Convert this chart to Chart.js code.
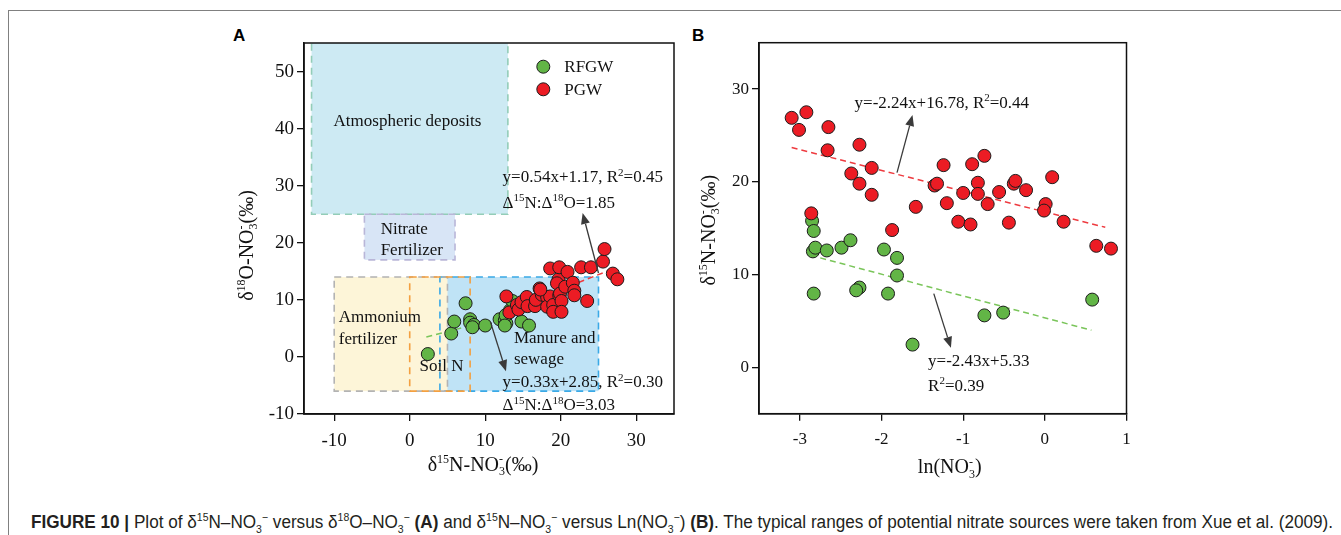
<!DOCTYPE html>
<html>
<head>
<meta charset="utf-8">
<script src="https://cdn.jsdelivr.net/npm/chart.js@4.4.1/dist/chart.umd.min.js"></script>
<style>
  body { margin: 0; background: #fff; width: 1341px; height: 535px; position: relative; overflow: hidden; }
  #frame { position: absolute; left: 8px; top: 10px; right: 0; bottom: 0; border-top: 1px solid #808080; border-left: 1px solid #808080; }
  .panel { position: absolute; font: bold 17px "Liberation Sans", Arial, sans-serif; line-height: 17px; color: #000; }
  canvas { position: absolute; }
  #caption { position: absolute; left: 31px; top: 512px; font: 18px "Liberation Sans", Arial, sans-serif; color: #231f20;
             white-space: nowrap; transform-origin: 0 0; line-height: 20px; }
  #caption sup, #caption sub { font-size: 11px; line-height: 0; }
</style>
</head>
<body>
<div id="frame"></div>
<div class="panel" style="left:233px;top:27px">A</div>
<div class="panel" style="left:692px;top:27px">B</div>
<canvas id="chartA" width="490" height="470" style="left:200px;top:20px;width:490px;height:470px"></canvas>
<canvas id="chartB" width="460" height="470" style="left:690px;top:20px;width:460px;height:470px"></canvas>
<div id="caption"><b>FIGURE 10 |</b> Plot of δ<sup>15</sup>N–NO<sub>3</sub><sup>−</sup> versus δ<sup>18</sup>O–NO<sub>3</sub><sup>−</sup> <b>(A)</b> and δ<sup>15</sup>N–NO<sub>3</sub><sup>−</sup> versus Ln(NO<sub>3</sub><sup>−</sup>) <b>(B)</b>. The typical ranges of potential nitrate sources were taken from Xue et al. (2009).</div>
<script>
// ---- panel A: d15N (x) vs d18O (y) ----
const rfgwA_x = [2.4, 5.5, 5.9, 7.4, 8.0, 8.0, 8.5, 8.3, 10.0, 11.9, 12.6, 12.8, 12.7, 12.6, 13.3, 13.6, 14.8, 15.8];
const rfgwA_y = [0.5, 4.1, 6.2, 9.4, 6.6, 6.0, 5.6, 5.2, 5.5, 6.6, 6.4, 5.9, 7.3, 5.5, 8.2, 9.8, 6.2, 5.5];
const pgwA_x = [12.8, 13.2, 14.2, 14.4, 14.8, 15.5, 15.6, 16.6, 16.7, 17.2, 17.5, 18.2, 18.2, 18.6, 18.6, 19.0, 19.0,
                19.7, 19.5, 19.8, 19.8, 19.9, 20.1, 20.1, 20.6, 20.9, 21.6, 21.8, 21.8, 22.7, 23.5, 24.0, 25.6, 25.8,
                26.9, 27.5, 17.3];
const pgwA_y = [10.6, 7.8, 9.1, 8.3, 9.6, 10.5, 8.9, 8.9, 10.0, 12.0, 10.9, 10.5, 8.8, 10.6, 15.5, 9.1, 7.9,
                13.6, 12.9, 15.7, 10.8, 11.1, 9.8, 7.9, 12.3, 14.9, 13.0, 11.6, 10.8, 15.7, 9.8, 15.7, 16.7, 18.9,
                14.6, 13.6, 11.8];
const fitA_red_x = [12.5, 26.3], fitA_red_y = [7.9, 15.1];
const fitA_green_x = [2.2, 16.2], fitA_green_y = [3.5, 8.3];
const ticksA_x = [-10, 0, 10, 20, 30];
const ticksA_y = [-10, 0, 10, 20, 30, 40, 50];

// nitrate source ranges (Xue et al. 2009)
const srcNames = ['Atmospheric deposits', 'Nitrate fertilizer', 'Manure and sewage', 'Ammonium fertilizer', 'Soil N'];
const srcN_min = [-13, -6, 4, -10, 0];
const srcN_max = [13, 6, 25, 5, 8];
const srcO_min = [25, 17, -6, -6, -6];
const srcO_max = [60, 25, 14, 14, 14];

// ---- panel B: ln(NO3) (x) vs d15N (y) ----
const pgwB_x = [-3.10, -2.92, -3.01, -2.65, -2.66, -2.27, -2.37, -2.27, -2.12, -2.12, -2.86, -1.87, -1.58, -1.35, -1.32,
                -1.24, -1.20, -1.06, -1.00, -0.91, -0.89, -0.82, -0.82, -0.74, -0.70, -0.56, -0.44, -0.38, -0.36,
                -0.23, 0.01, -0.01, 0.09, 0.23, 0.63, 0.81];
const pgwB_y = [26.9, 27.5, 25.6, 25.9, 23.4, 24.0, 20.9, 19.8, 21.5, 18.6, 16.6, 14.8, 17.3, 19.6, 19.8,
                21.8, 17.7, 15.7, 18.8, 15.4, 21.9, 19.9, 18.7, 22.8, 17.6, 18.9, 15.6, 19.8, 20.1,
                19.1, 17.6, 16.9, 20.5, 15.7, 13.1, 12.8];
const rfgwB_x = [-2.85, -2.83, -2.84, -2.81, -2.67, -2.49, -2.38, -1.97, -1.81, -1.81, -2.83, -2.27, -2.31, -1.92,
                 -1.62, -0.74, -0.51, 0.58];
const rfgwB_y = [15.8, 14.7, 12.5, 12.9, 12.6, 12.9, 13.7, 12.7, 11.8, 9.9, 7.95, 8.6, 8.3, 7.95,
                 2.45, 5.6, 5.9, 7.3];
const fitB_red_x = [-3.1, 0.74], fitB_red_y = [23.7, 15.1];
const fitB_green_x = [-2.75, 0.57], fitB_green_y = [11.8, 4.0];
const ticksB_x = [-3, -2, -1, 0, 1];
const ticksB_y = [0, 10, 20, 30];

const SERIF = '"Liberation Serif", "Times New Roman", serif';
const RED = '#ec1c24', GREEN = '#62b546', EDGE = '#1c1c1c';
const INK = '#111';

const srcStyle = [
  { fill: '#cdeaf3', stroke: '#93cdb8' },
  { fill: '#d8e5f6', stroke: '#b9b6d8' },
  { fill: '#bfe3f6', stroke: '#3aa9e6' },
  { fill: '#fdf5d8', stroke: '#b3b3b3' },
  { fill: null, stroke: '#f4a040' }
];
const boxes = srcNames.map((n, i) => ({
  x0: srcN_min[i], x1: srcN_max[i], y0: srcO_min[i], y1: srcO_max[i], style: srcStyle[i]
}));

const pts = (xs, ys) => xs.map((v, i) => ({ x: v, y: ys[i] }));

// tiny markup: ^{..} superscript, _{..} subscript (a sup right after a sub is stacked)
function parseRich(s) {
  const out = [];
  s.split(/(\^\{[^}]*\}|_\{[^}]*\})/).forEach(p => {
    if (!p) return;
    if (p.startsWith('^{')) out.push({ t: p.slice(2, -1), k: 'sup' });
    else if (p.startsWith('_{')) out.push({ t: p.slice(2, -1), k: 'sub' });
    else out.push({ t: p, k: '' });
  });
  for (let i = 1; i < out.length; i++) if (out[i].k === 'sup' && out[i - 1].k === 'sub') out[i].stack = true;
  return out;
}

function drawRich(ctx, s, x, y, size, align) {
  const parts = parseRich(s);
  const big = size + 'px ' + SERIF, small = Math.round(size * 0.62) + 'px ' + SERIF;
  let total = 0;
  parts.forEach((p, i) => {
    ctx.font = p.k ? small : big;
    p.w = ctx.measureText(p.t).width;
    p.adv = p.stack ? Math.max(0, p.w - parts[i - 1].w) : p.w;
    total += p.adv;
  });
  let cx = align === 'center' ? x - total / 2 : x;
  ctx.textAlign = 'left';
  ctx.textBaseline = 'alphabetic';
  parts.forEach((p, i) => {
    ctx.font = p.k ? small : big;
    const px = p.stack ? cx - parts[i - 1].w : cx;
    const py = p.k === 'sup' ? y - size * 0.38 : p.k === 'sub' ? y + size * 0.22 : y;
    ctx.fillText(p.t, px, py);
    cx += p.adv;
  });
}

function drawArrow(ctx, x0, y0, x1, y1) {
  const ang = Math.atan2(y1 - y0, x1 - x0), L = 11, W = 4.5;
  ctx.strokeStyle = '#3a3a3a';
  ctx.fillStyle = '#3a3a3a';
  ctx.lineWidth = 1.3;
  ctx.beginPath();
  ctx.moveTo(x0, y0);
  ctx.lineTo(x1 - Math.cos(ang) * L, y1 - Math.sin(ang) * L);
  ctx.stroke();
  ctx.beginPath();
  ctx.moveTo(x1, y1);
  ctx.lineTo(x1 - Math.cos(ang) * L - Math.sin(ang) * W, y1 - Math.sin(ang) * L + Math.cos(ang) * W);
  ctx.lineTo(x1 - Math.cos(ang) * L + Math.sin(ang) * W, y1 - Math.sin(ang) * L - Math.cos(ang) * W);
  ctx.closePath();
  ctx.fill();
}

const decor = {
  id: 'decor',
  beforeDatasetsDraw(chart, args, o) {
    const { ctx, chartArea: a, scales: { x, y } } = chart;
    ctx.save();
    ctx.beginPath();
    ctx.rect(a.left, a.top, a.right - a.left, a.bottom - a.top);
    ctx.clip();
    const rect = b => [x.getPixelForValue(b.x0), y.getPixelForValue(b.y1),
                       x.getPixelForValue(b.x1) - x.getPixelForValue(b.x0),
                       y.getPixelForValue(b.y0) - y.getPixelForValue(b.y1)];
    (o.boxes || []).forEach(b => {
      if (!b.style.fill) return;
      ctx.fillStyle = b.style.fill;
      ctx.fillRect(...rect(b));
    });
    ctx.lineWidth = 1.6;
    ctx.setLineDash([7, 5]);
    (o.boxes || []).forEach(b => {
      ctx.strokeStyle = b.style.stroke;
      ctx.strokeRect(...rect(b));
    });
    ctx.setLineDash([]);
    ctx.fillStyle = INK;
    (o.labels || []).forEach(l => drawRich(ctx, l.text, x.getPixelForValue(l.x), y.getPixelForValue(l.y), 17, l.align));
    ctx.restore();
  },
  afterDatasetsDraw(chart, args, o) {
    const { ctx, chartArea: a, scales: { x, y } } = chart;
    ctx.save();
    (o.arrows || []).forEach(r => drawArrow(ctx, x.getPixelForValue(r[0]), y.getPixelForValue(r[1]),
                                                 x.getPixelForValue(r[2]), y.getPixelForValue(r[3])));
    ctx.fillStyle = INK;
    (o.notes || []).forEach(n => drawRich(ctx, n.text, x.getPixelForValue(n.x), y.getPixelForValue(n.y), 17, 'left'));
    if (o.legend) {
      chart.data.datasets.filter(d => d.inLegend).forEach((d, i) => {
        const cx = a.right + o.legend.dx, cy = a.top + o.legend.dy + i * o.legend.gap;
        ctx.beginPath();
        ctx.arc(cx, cy, 6.5, 0, Math.PI * 2);
        ctx.fillStyle = d.backgroundColor;
        ctx.fill();
        ctx.lineWidth = 1;
        ctx.strokeStyle = EDGE;
        ctx.stroke();
        ctx.fillStyle = INK;
        ctx.font = '17px ' + SERIF;
        ctx.textBaseline = 'middle';
        ctx.fillText(d.label, cx + 21, cy + 1);
      });
    }
    ctx.strokeStyle = '#111';
    ctx.lineWidth = 1.5;
    ctx.strokeRect(a.left, a.top, a.right - a.left, a.bottom - a.top);
    ctx.restore();
  },
  afterDraw(chart, args, o) {
    const { ctx, chartArea: a } = chart;
    ctx.save();
    ctx.fillStyle = INK;
    drawRich(ctx, o.xTitle.text, (a.left + a.right) / 2 + o.xTitle.dx, a.bottom + o.xTitle.dy, 20, 'center');
    ctx.translate(a.left + o.yTitle.dx, (a.top + a.bottom) / 2 + o.yTitle.dy);
    ctx.rotate(-Math.PI / 2);
    drawRich(ctx, o.yTitle.text, 0, 0, 20, 'center');
    ctx.restore();
  }
};

function axis(min, max, ticks, size, fixed, isY) {
  return {
    type: 'linear', min, max,
    afterBuildTicks: s => { s.ticks = ticks.map(v => ({ value: v })); },
    afterFit: s => { if (isY) s.width = fixed; else s.height = fixed; },
    grid: { display: true, drawOnChartArea: false, drawTicks: true, tickLength: 7, color: '#111', lineWidth: 1.3 },
    border: { display: true, color: '#111', width: 1.5 },
    ticks: { font: { family: SERIF, size }, color: INK, padding: isY ? 3 : 9, autoSkip: false, maxRotation: 0,
             callback: v => String(v) }
  };
}

function scatterSet(label, data, color, order) {
  return { label, data, backgroundColor: color, borderColor: EDGE, borderWidth: 1, pointRadius: 6.5,
           pointHoverRadius: 6.5, order, inLegend: true };
}
function fitSet(data, color, order) {
  return { type: 'line', data, borderColor: color, borderDash: [6, 4], borderWidth: 1.5, pointRadius: 0,
           fill: false, order };
}

new Chart(document.getElementById('chartA'), {
  type: 'scatter',
  data: {
    datasets: [
      scatterSet('RFGW', pts(rfgwA_x, rfgwA_y), GREEN, 1),
      scatterSet('PGW', pts(pgwA_x, pgwA_y), RED, 0),
      fitSet(pts(fitA_red_x, fitA_red_y), '#ee3a3f', 2),
      fitSet(pts(fitA_green_x, fitA_green_y), '#7ac55a', 3)
    ]
  },
  options: {
    responsive: false, animation: false, events: [],
    layout: { padding: { top: 23, right: 16, left: 0, bottom: 0 } },
    scales: { x: axis(-14, 35, ticksA_x, 19, 76, false), y: axis(-10, 55, ticksA_y, 19, 104, true) },
    plugins: {
      legend: { display: false }, tooltip: { enabled: false },
      decor: {
        boxes: [boxes[0], boxes[1], boxes[2], boxes[3], boxes[4]],
        labels: [
          { text: 'Atmospheric deposits', x: -0.3, y: 40.4, align: 'center' },
          { text: 'Nitrate', x: -3.85, y: 21.6 },
          { text: 'Fertilizer', x: -3.85, y: 17.8 },
          { text: 'Ammonium', x: -9.4, y: 6.1 },
          { text: 'fertilizer', x: -9.4, y: 2.3 },
          { text: 'Soil N', x: 1.3, y: -2.5 },
          { text: 'Manure and', x: 13.8, y: 2.5 },
          { text: 'sewage', x: 13.8, y: -1.3 }
        ],
        notes: [
          { text: 'y=0.54x+1.17, R^{2}=0.45', x: 12.3, y: 30.6 },
          { text: 'Δ^{15}N:Δ^{18}O=1.85', x: 12.3, y: 26.1 },
          { text: 'y=0.33x+2.85, R^{2}=0.30', x: 12.3, y: -5.3 },
          { text: 'Δ^{15}N:Δ^{18}O=3.03', x: 12.3, y: -9.3 }
        ],
        arrows: [[25.0, 14.7, 22.9, 25.2], [10.7, 6.1, 12.75, -2.5]],
        legend: { dx: -130.7, dy: 23.7, gap: 22.6 },
        xTitle: { text: 'δ^{15}N-NO_{3}^{-}(‰)', dx: -6, dy: 57 },
        yTitle: { text: 'δ^{18}O-NO_{3}^{-}(‰)', dx: -51, dy: 17 }
      }
    }
  },
  plugins: [decor]
});

new Chart(document.getElementById('chartB'), {
  type: 'scatter',
  data: {
    datasets: [
      scatterSet('RFGW', pts(rfgwB_x, rfgwB_y), GREEN, 1),
      scatterSet('PGW', pts(pgwB_x, pgwB_y), RED, 0),
      fitSet(pts(fitB_red_x, fitB_red_y), '#ee3a3f', 2),
      fitSet(pts(fitB_green_x, fitB_green_y), '#7ac55a', 3)
    ]
  },
  options: {
    responsive: false, animation: false, events: [],
    layout: { padding: { top: 22.7, right: 23.5, left: 0, bottom: 0 } },
    scales: { x: axis(-3.5, 1, ticksB_x, 17, 76.3, false), y: axis(-5, 35, ticksB_y, 17, 69, true) },
    plugins: {
      legend: { display: false }, tooltip: { enabled: false },
      decor: {
        notes: [
          { text: 'y=-2.24x+16.78, R^{2}=0.44', x: -2.33, y: 28.0 },
          { text: 'y=-2.43x+5.33', x: -1.43, y: 0.16 },
          { text: 'R^{2}=0.39', x: -1.43, y: -2.5 }
        ],
        arrows: [[-1.81, 21.0, -1.62, 27.2], [-1.36, 7.95, -1.15, 2.1]],
        xTitle: { text: 'ln(NO_{3}^{-})', dx: 7, dy: 59.5 },
        yTitle: { text: 'δ^{15}N-NO_{3}^{-}(‰)', dx: -44.5, dy: 2 }
      }
    }
  },
  plugins: [decor]
});

// fit caption to the printed width
const cap = document.getElementById('caption');
cap.style.transform = 'scaleX(' + (1302 / cap.getBoundingClientRect().width) + ')';
</script>
</body>
</html>
